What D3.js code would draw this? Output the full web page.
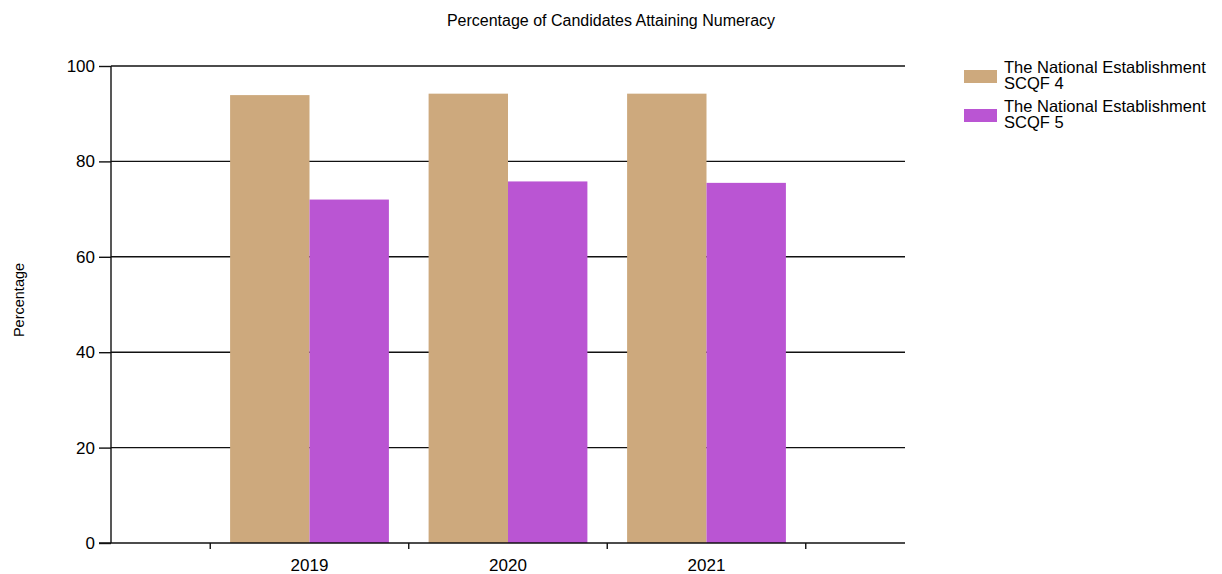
<!DOCTYPE html>
<html>
<head>
<meta charset="utf-8">
<script src="https://cdn.jsdelivr.net/npm/d3@7"></script>
<style>
  body { margin: 0; background: #fff; }
  text { font-family: "Liberation Sans", Arial, sans-serif; fill: #000; }
</style>
</head>
<body>
<svg id="chart" width="1222" height="574"></svg>
<script>
// data
var years = ["2019", "2020", "2021"];
var scqf4 = [93.9, 94.2, 94.2];
var scqf5 = [72.0, 75.8, 75.5];
var seriesNames = [["The National Establishment", "SCQF 4"], ["The National Establishment", "SCQF 5"]];
var seriesColors = ["#CDA97D", "#BA55D3"];
var yTicks = [0, 20, 40, 60, 80, 100];

var svg = d3.select("#chart");

// x is positional: categories sit at 1,2,3 on a 0..4 axis
var x = d3.scaleLinear().domain([0, 4]).range([111, 905]),
    y = d3.scaleLinear().domain([0, 100]).range([543, 66]),
    step = x(1) - x(0),
    barW = step * 0.4;

// title
svg.append("text")
    .attr("x", 611).attr("y", 26)
    .attr("text-anchor", "middle")
    .style("font-size", "16px")
    .text("Percentage of Candidates Attaining Numeracy");

// y axis title
svg.append("text")
    .attr("transform", "translate(24,300) rotate(-90)")
    .attr("text-anchor", "middle")
    .style("font-size", "14.5px")
    .text("Percentage");

// gridlines
svg.append("g").selectAll("line")
    .data(yTicks.filter(function (d) { return d > 0; }))
    .enter().append("line")
    .attr("x1", x(0)).attr("x2", x(4))
    .attr("y1", function (d) { return y(d); })
    .attr("y2", function (d) { return y(d); })
    .attr("stroke", "#111").attr("stroke-width", 1.4);

// bars
var series = [scqf4, scqf5];
series.forEach(function (vals, s) {
    svg.append("g").selectAll("rect")
        .data(vals)
        .enter().append("rect")
        .attr("x", function (d, i) { return x(i + 1) - barW + s * barW; })
        .attr("y", function (d) { return y(d); })
        .attr("width", barW)
        .attr("height", function (d) { return y(0) - y(d); })
        .attr("fill", seriesColors[s]);
});

// y axis
var yAxis = svg.append("g")
    .attr("transform", "translate(" + x(0) + ",0)")
    .call(d3.axisLeft(y).tickValues(yTicks).tickSize(12).tickPadding(4));
yAxis.select(".domain").attr("stroke", "#111").attr("stroke-width", 1.4).attr("d", "M0," + y(0) + "V" + y(100));
yAxis.selectAll(".tick line").attr("stroke", "#111").attr("stroke-width", 1.4);
yAxis.selectAll(".tick text").style("font-size", "17px").style("font-family", "Liberation Sans, Arial, sans-serif").attr("fill", "#000");

// x axis: ticks between categories, labels at category centres
var xAxis = svg.append("g")
    .attr("transform", "translate(0," + y(0) + ")");
xAxis.append("line")
    .attr("x1", x(0) - 12).attr("x2", x(4))
    .attr("stroke", "#111").attr("stroke-width", 1.4);
xAxis.selectAll(".xt")
    .data([0.5, 1.5, 2.5, 3.5])
    .enter().append("line")
    .attr("x1", function (d) { return x(d); })
    .attr("x2", function (d) { return x(d); })
    .attr("y1", 0).attr("y2", 6)
    .attr("stroke", "#111").attr("stroke-width", 1.4);
xAxis.selectAll(".xl")
    .data(years)
    .enter().append("text")
    .attr("x", function (d, i) { return x(i + 1); })
    .attr("y", 28)
    .attr("text-anchor", "middle")
    .style("font-size", "17px")
    .text(function (d) { return d; });

// legend
var legend = svg.append("g");
seriesNames.forEach(function (lines, s) {
    var top = 70 + s * 39;
    legend.append("rect")
        .attr("x", 964).attr("y", top)
        .attr("width", 33).attr("height", 13)
        .attr("fill", seriesColors[s]);
    lines.forEach(function (t, k) {
        legend.append("text")
            .attr("x", 1004).attr("y", top + 3 + k * 16)
            .style("font-size", "16.5px")
            .text(t);
    });
});
</script>
</body>
</html>
